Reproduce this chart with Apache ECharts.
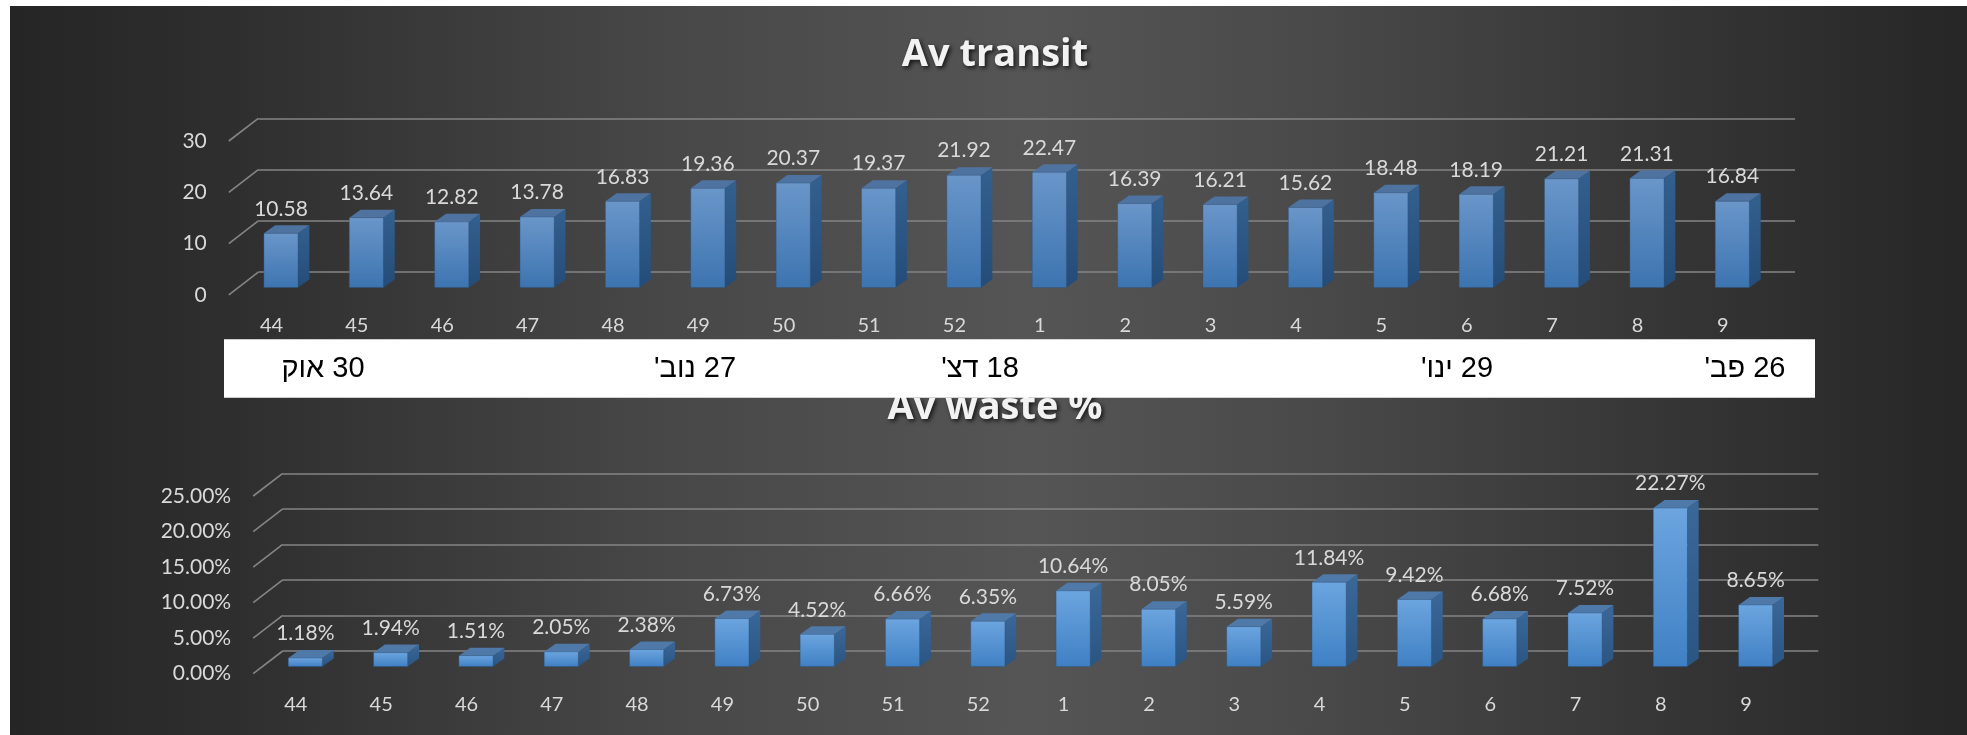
<!DOCTYPE html>
<html>
<head>
<meta charset="utf-8">
<script src="https://cdn.jsdelivr.net/npm/echarts@6/dist/echarts.min.js"></script>
<style>
  html, body { margin: 0; padding: 0; background: #ffffff; }
  #bg {
    position: absolute; left: 10px; top: 6px; right: 0; bottom: 0;
    background: linear-gradient(to right, #252525 0%, #2f2f2f 12%, #474747 33%, #555555 52%, #4a4a4a 66%, #353535 85%, #262626 100%);
  }
  #chart { position: absolute; left: 0; top: 0; width: 1967px; height: 735px; }
</style>
</head>
<body>
<div id="bg"></div>
<div id="chart"></div>
<script>
// ---- data ----
const weeks = ['44', '45', '46', '47', '48', '49', '50', '51', '52', '1', '2', '3', '4', '5', '6', '7', '8', '9'];
const transitValues = [10.58, 13.64, 12.82, 13.78, 16.83, 19.36, 20.37, 19.37, 21.92, 22.47, 16.39, 16.21, 15.62, 18.48, 18.19, 21.21, 21.31, 16.84];
const wasteValues = [1.18, 1.94, 1.51, 2.05, 2.38, 6.73, 4.52, 6.66, 6.35, 10.64, 8.05, 5.59, 11.84, 9.42, 6.68, 7.52, 22.27, 8.65];
const transitTicks = [0, 10, 20, 30];
const wasteTicks = [0, 5, 10, 15, 20, 25];
const monthLabels = ['30 אוק', "27 נוב'", "18 דצ'", "29 ינו'", "26 פב'"];
const chartTitles = ['Av transit', 'Av waste %'];

// ---- layout ----
const FLOOR_DX = 29.5, FLOOR_DY = 22.7;   // back wall -> front edge of the floor
const BAR_SHIFT_X = 20, BAR_SHIFT_Y = 15.4; // back wall -> front face of a bar
const BAR_DEPTH_X = 11.3, BAR_DEPTH_Y = 8;  // bar thickness
const BAR_WIDTH = 0.4;                      // share of a category band
const monthLabelX = [323, 695, 980, 1457, 1745];
const LABEL_COLOR = '#d9d9d9';
const GRID_COLOR = '#858585';

const panels = [
  { left: 258.3, top: 118.3, width: 1536.7, height: 153.9, ticks: transitTicks,
    values: transitValues, fmt: v => v.toFixed(2), axisFmt: v => String(v),
    front: ['#6a96c9', '#3c74b0'], side: ['#33608f', '#254c78'], topFace: '#4f73a0' },
  { left: 282.7, top: 473.3, width: 1535.6, height: 177.7, ticks: wasteTicks,
    values: wasteValues, fmt: v => v.toFixed(2) + '%', axisFmt: v => v.toFixed(2) + '%',
    front: ['#6ca5df', '#3f80c4'], side: ['#3a6899', '#2b5582'], topFace: '#4f79a8' }
];

const grids = [], xAxes = [], yAxes = [], series = [];

panels.forEach((p, k) => {
  const back = grids.length, front = back + 1;
  const yMin = p.ticks[0], yMax = p.ticks[p.ticks.length - 1], step = p.ticks[1] - p.ticks[0];
  // back wall
  grids.push({ left: p.left, top: p.top, width: p.width, height: p.height });
  // front edge of the floor, carries the axis labels
  grids.push({ left: p.left - FLOOR_DX, top: p.top + FLOOR_DY, width: p.width, height: p.height });

  xAxes.push({ type: 'category', gridIndex: back, data: weeks, show: false });
  xAxes.push({ type: 'category', gridIndex: front, data: weeks,
    axisLine: { show: false }, axisTick: { show: false }, splitLine: { show: false },
    axisLabel: { color: LABEL_COLOR, fontFamily: 'Lato', fontSize: 20, margin: 21 } });

  yAxes.push({ type: 'value', gridIndex: back, min: yMin, max: yMax, interval: step,
    axisLine: { show: false }, axisTick: { show: false }, axisLabel: { show: false },
    splitLine: { show: true, lineStyle: { color: GRID_COLOR, width: 1.6 } } });
  yAxes.push({ type: 'value', gridIndex: front, min: yMin, max: yMax, interval: step,
    axisLine: { show: false }, axisTick: { show: false }, splitLine: { show: false },
    axisLabel: { color: LABEL_COLOR, fontFamily: 'Lato', fontSize: 21, margin: 22,
      formatter: p.axisFmt } });

  // side-wall diagonals from the back wall to the floor edge
  series.push({
    type: 'custom', xAxisIndex: back, yAxisIndex: back, silent: true, z: 1,
    data: p.ticks.map(t => [0, t]), encode: { x: 0, y: 1 },
    renderItem: (params, api) => {
      const y = api.coord([0, api.value(1)])[1];
      const x = params.coordSys.x;
      return { type: 'line', shape: { x1: x, y1: y, x2: x - FLOOR_DX, y2: y + FLOOR_DY },
        style: { stroke: GRID_COLOR, lineWidth: 1.6 } };
    }
  });

  // 3D columns
  series.push({
    type: 'custom', xAxisIndex: back, yAxisIndex: back, z: 3, clip: false,
    data: p.values.map((v, i) => [i, v]), encode: { x: 0, y: 1 },
    renderItem: (params, api) => {
      const i = api.value(0), v = api.value(1);
      const p0 = api.coord([i, 0]), p1 = api.coord([i, v]);
      const w = api.size([1, 0])[0] * BAR_WIDTH;
      const cx = p0[0] - BAR_SHIFT_X;
      const yb = p0[1] + BAR_SHIFT_Y, yt = p1[1] + BAR_SHIFT_Y;
      const l = cx - w / 2, r = cx + w / 2;
      const dx = BAR_DEPTH_X, dy = BAR_DEPTH_Y;
      return {
        type: 'group',
        children: [
          { type: 'polygon', shape: { points: [[r, yt], [r + dx, yt - dy], [r + dx, yb - dy], [r, yb]] },
            style: { fill: new echarts.graphic.LinearGradient(0, 0, 0, 1, [
              { offset: 0, color: p.side[0] }, { offset: 1, color: p.side[1] }]) } },
          { type: 'polygon', shape: { points: [[l, yt], [r, yt], [r + dx, yt - dy], [l + dx, yt - dy]] },
            style: { fill: p.topFace } },
          { type: 'rect', shape: { x: l, y: yt, width: w, height: yb - yt },
            style: { fill: new echarts.graphic.LinearGradient(0, 0, 0, 1, [
              { offset: 0, color: p.front[0] }, { offset: 1, color: p.front[1] }]),
              stroke: 'rgba(40,80,130,0.6)', lineWidth: 0.6 } },
          { type: 'text', style: { text: p.fmt(v), x: cx, y: yt - dy - 16.5,
              fill: LABEL_COLOR, fontFamily: 'Lato', fontSize: 21,
              align: 'center', verticalAlign: 'middle' } }
        ]
      };
    }
  });
});

const titleStyle = {
  fill: '#f2f2f2', fontFamily: '"Open Sans"', fontWeight: 'bold', fontSize: 38,
  align: 'center', verticalAlign: 'middle',
  textShadowColor: 'rgba(0,0,0,0.75)', textShadowBlur: 4, textShadowOffsetX: 2, textShadowOffsetY: 2
};

const graphics = [
  { type: 'text', x: 995, y: 55, z: 5, style: Object.assign({ text: chartTitles[0] }, titleStyle) },
  { type: 'text', x: 995, y: 408, z: 5, style: Object.assign({ text: chartTitles[1] }, titleStyle) },
  // date strip across the middle
  { type: 'rect', z: 100, shape: { x: 224, y: 339.3, width: 1591, height: 58.4 }, style: { fill: '#ffffff' } }
];
monthLabels.forEach((s, i) => {
  graphics.push({ type: 'text', z: 101, x: monthLabelX[i], y: 369,
    style: { text: '\u200F' + s + '\u200F', fill: '#000000',
      fontFamily: '"Liberation Sans", "DejaVu Sans", "Noto Sans"', fontSize: 29,
      align: 'center', verticalAlign: 'middle' } });
});

const chart = echarts.init(document.getElementById('chart'), null, { renderer: 'canvas' });
chart.setOption({
  backgroundColor: 'transparent',
  animation: false,
  grid: grids,
  xAxis: xAxes,
  yAxis: yAxes,
  series: series,
  graphic: graphics
});
</script>
</body>
</html>
